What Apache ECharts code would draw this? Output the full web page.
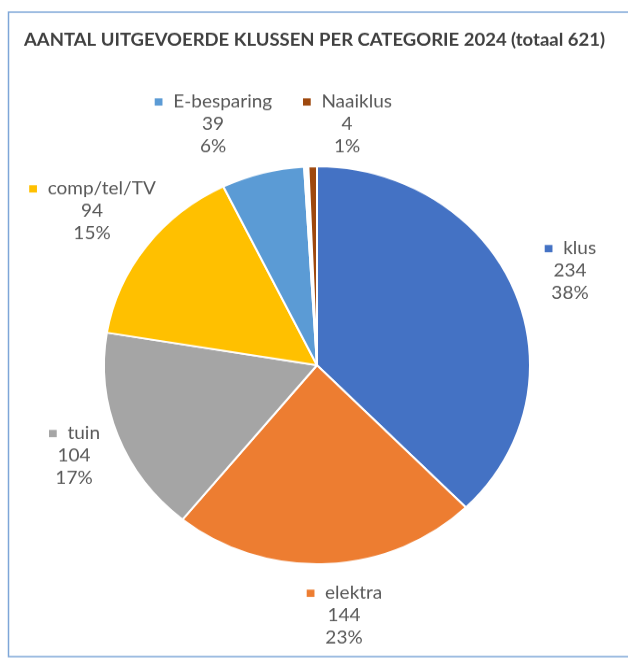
<!DOCTYPE html>
<html>
<head>
<meta charset="utf-8">
<script src="https://cdn.jsdelivr.net/npm/echarts@6/dist/echarts.min.js"></script>
<style>
  html, body { margin: 0; padding: 0; background: #fff; overflow: hidden; }
  /* the reference picture is slightly squashed vertically */
  #chart { width: 628px; height: 711px; transform: scaleY(0.934); transform-origin: 0 0; }
</style>
</head>
<body>
<div id="chart"></div>
<script>
const categories = ['klus', 'elektra', 'tuin', 'comp/tel/TV', 'E-besparing', '', 'Naaiklus'];
const counts = [234, 144, 104, 94, 39, 2, 4];
const percents = ['38%', '23%', '17%', '15%', '6%', '', '1%'];
const colors = ['#4472C4', '#ED7D31', '#A5A5A5', '#FFC000', '#5B9BD5', '#FFFFFF', '#9E480E'];

// label block anchors (centre x, top y) in chart space
const labelAnchors = [
  [570, 254], [344, 623], [74, 452], [92, 190], [213, 97], [0, 0], [347, 97],
];

const chart = echarts.init(document.getElementById('chart'));

const font = 'Lato';
const textColor = '#595959';

chart.setOption({
  backgroundColor: '#fff',
  animation: false,
  title: {
    text: 'AANTAL UITGEVOERDE KLUSSEN PER CATEGORIE 2024 (totaal 621)',
    left: 19,
    top: 29,
    textStyle: { color: '#404040', fontSize: 18.5, fontWeight: 'bold', fontFamily: font },
  },
  graphic: [
    {
      type: 'rect',
      shape: { x: 8.5, y: 13, width: 640, height: 690 },
      style: { fill: 'none', stroke: '#7EA6D8', lineWidth: 1.5 },
      silent: true,
    },
  ],
  series: [
    {
      type: 'pie',
      center: [317, 391],
      radius: [0, 213],
      startAngle: 90,
      clockwise: true,
      avoidLabelOverlap: false,
      itemStyle: { borderColor: '#fff', borderWidth: 2 },
      label: {
        show: true,
        position: 'outside',
        fontFamily: font,
        fontSize: 19,
        color: textColor,
        formatter: (p) => {
          if (!p.name) return '';
          return `{sq${p.dataIndex}|■}  {n|${p.name}}\n{v|${counts[p.dataIndex]}}\n{v|${percents[p.dataIndex]}}`;
        },
        rich: Object.assign(
          {
            n: { fontSize: 19, color: textColor, fontFamily: font, lineHeight: 24, align: 'center' },
            v: { fontSize: 19, color: textColor, fontFamily: font, lineHeight: 24, align: 'center' },
          },
          Object.fromEntries(colors.map((c, i) => [`sq${i}`, { fontSize: 16, color: c, lineHeight: 24 }]))
        ),
      },
      labelLine: { show: false },
      labelLayout: (params) => {
        const a = labelAnchors[params.dataIndex];
        return { x: a[0], y: a[1], align: 'center', verticalAlign: 'top', hideOverlap: false };
      },
      data: categories.map((name, i) => ({
        name,
        value: counts[i],
        itemStyle: { color: colors[i] },
      })),
    },
  ],
});

window.addEventListener('resize', () => chart.resize());
</script>
</body>
</html>
